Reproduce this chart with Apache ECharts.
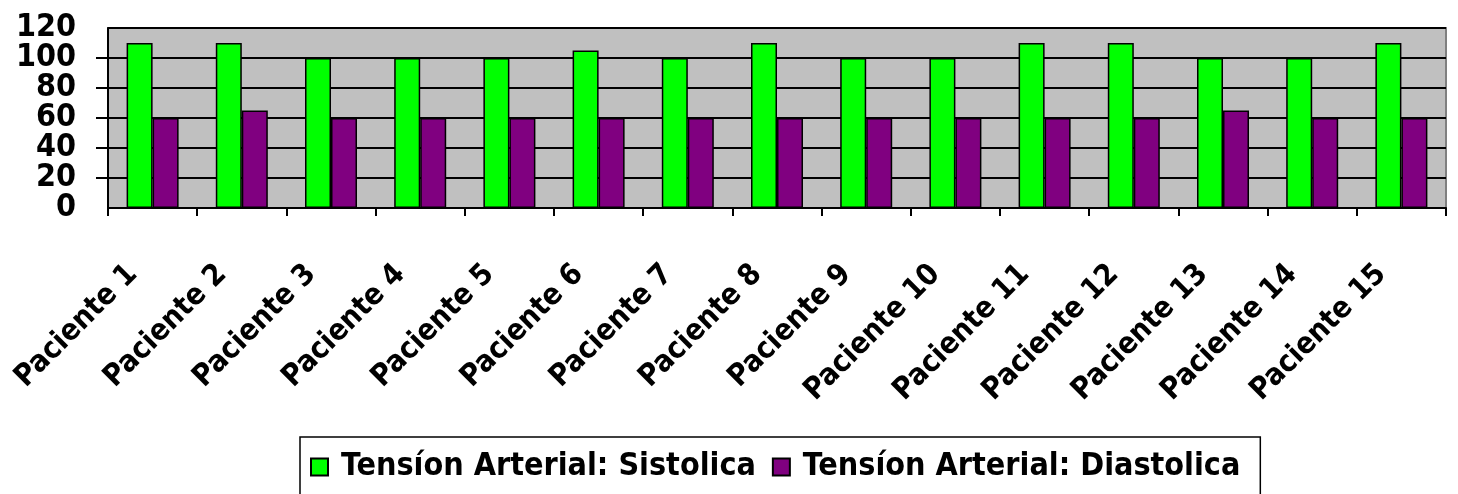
<!DOCTYPE html>
<html><head><meta charset="utf-8">
<script src="https://cdn.jsdelivr.net/npm/echarts@6/dist/echarts.min.js"></script>
<style>html,body{margin:0;padding:0;background:#fff}#c{width:1458px;height:494px}</style>
</head><body><div id="c"></div>
<script>
const categories = ['Paciente 1','Paciente 2','Paciente 3','Paciente 4','Paciente 5','Paciente 6','Paciente 7','Paciente 8','Paciente 9','Paciente 10','Paciente 11','Paciente 12','Paciente 13','Paciente 14','Paciente 15'];
const sistolica = [110,110,100,100,100,105,100,110,100,100,110,110,100,100,110];
const diastolica = [60,65,60,60,60,60,60,60,60,60,60,60,65,60,60];
const seriesNames = ['Tensíon Arterial: Sistolica','Tensíon Arterial: Diastolica'];

const chart = echarts.init(document.getElementById('c'));
const font = 'DejaVu Sans Condensed';
const yLabelStyle = {fontFamily:font,fontWeight:'bold',fontSize:32,color:'#000'};
chart.setOption({
  animation:false,
  grid:{left:108,right:12,top:28,bottom:286,backgroundColor:'#C0C0C0',show:true,borderColor:'#808080',borderWidth:2},
  legend:{
    bottom:-13,left:300,itemWidth:17,itemHeight:17,itemGap:16,icon:'rect',
    padding:[14,20,24,10],
    borderColor:'#000',borderWidth:1.5,
    textStyle:{fontFamily:font,fontWeight:'bold',fontSize:32,color:'#000',padding:[0,0,0,8]},
    data:seriesNames
  },
  xAxis:{
    type:'category',data:categories,
    axisLine:{lineStyle:{color:'#000',width:2}},
    axisTick:{show:true,length:8,lineStyle:{color:'#000',width:2}},
    axisLabel:{rotate:45,interval:0,margin:42,padding:[0,28,0,0],fontFamily:font,fontWeight:'bold',fontSize:30,color:'#000'}
  },
  yAxis:[
    {
      type:'value',min:0,max:120,interval:40,position:'left',
      axisLine:{show:true,lineStyle:{color:'#000',width:2}},
      axisTick:{show:false},
      axisLabel:Object.assign({margin:32,hideOverlap:false},yLabelStyle),
      splitLine:{show:false}
    },
    {
      type:'value',min:0,max:120,interval:20,position:'left',
      axisLine:{show:false},
      axisTick:{show:true,length:12,lineStyle:{color:'#000',width:2}},
      axisLabel:Object.assign({margin:32,hideOverlap:false,showMinLabel:false,showMaxLabel:false,
        formatter:function(v){return (v/20)%2===1 ? String(v) : '';}},yLabelStyle),
      splitLine:{show:true,lineStyle:{color:'#000',width:2}}
    }
  ],
  series:[
    {name:seriesNames[0],type:'bar',data:sistolica,barWidth:26,barGap:'0%',
     itemStyle:{color:'#00FF00',borderColor:'#000',borderWidth:1.5}},
    {name:seriesNames[1],type:'bar',data:diastolica,barWidth:26,
     itemStyle:{color:'#800080',borderColor:'#000',borderWidth:1.5}}
  ]
});
</script></body></html>
